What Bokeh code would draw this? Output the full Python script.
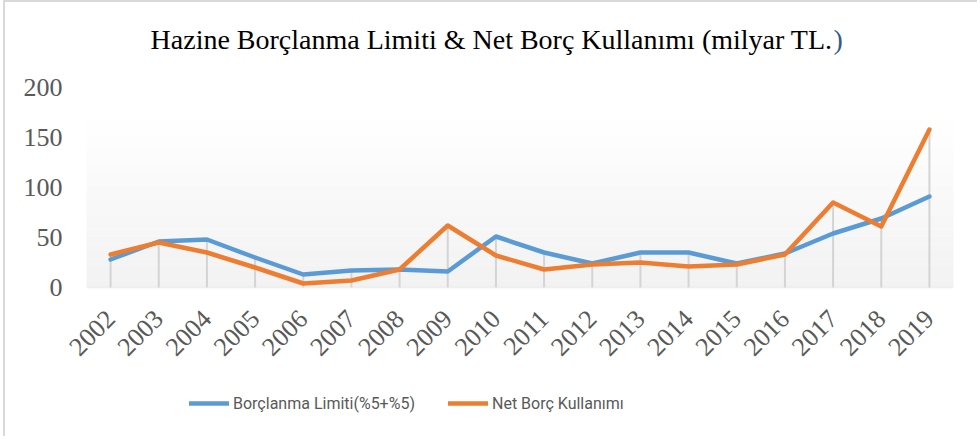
import math
from bokeh.plotting import figure
from bokeh.models import (FactorRange, Range1d, FixedTicker, Legend,
                          LegendItem, BoxAnnotation, Label)
from bokeh.embed import file_html
from bokeh.resources import INLINE

# ---- data ----
years = [str(y) for y in range(2002, 2020)]
borclanma_limiti = [28, 46, 48, 30, 13, 17, 18, 16, 51, 35, 24, 35, 35, 24, 34, 54, 69, 91]
net_borc = [33, 45, 35, 20, 4, 7, 18, 62, 32, 18, 23, 25, 21, 23, 33, 85, 61, 158]
y_ticks = [0, 50, 100, 150, 200]
title_main = "Hazine Borçlanma Limiti & Net Borç Kullanımı (milyar TL."
title_close = ")"
legend_labels = ["Borçlanma Limiti(%5+%5)", "Net Borç Kullanımı"]

BLUE = "#5B9BD5"
ORANGE = "#ED7D31"
GRAY_TXT = "#595959"

# figure placed at page (5, 2) thanks to margin + 2px border
W, H = 974, 436
FIG_X, FIG_Y = 5, 2
FRAME_TOP, FRAME_BOTTOM = FIG_Y, FIG_Y + H                 # frame covers full height
Y200, ZERO_Y = 87, 287                                     # page pixels of 200 and 0
PLOT_LEFT, PLOT_RIGHT = 86, 953                            # category band area
FRAME_LEFT, FRAME_RIGHT = 64, 975                          # widened frame (room for labels)
cat_w = (PLOT_RIGHT - PLOT_LEFT) / len(years)
pad_side = (PLOT_LEFT - FRAME_LEFT) / cat_w

px_per_unit = (ZERO_Y - Y200) / 200.0
y_start = -(FRAME_BOTTOM - ZERO_Y) / px_per_unit
y_end = 200 + (Y200 - FRAME_TOP) / px_per_unit

p = figure(width=W, height=H,
           x_range=FactorRange(*years, range_padding=pad_side, range_padding_units="absolute"),
           y_range=Range1d(y_start, y_end),
           output_backend="svg", toolbar_location=None,
           min_border_left=FRAME_LEFT - FIG_X, min_border_right=W + FIG_X - FRAME_RIGHT,
           min_border_top=0, min_border_bottom=0)
p.outline_line_color = None
p.background_fill_color = "white"
p.border_fill_color = "white"
p.grid.grid_line_color = None

# gradient background (white at top -> light gray at bottom), over the category band area
n = 24
top_val = 175.0
for i in range(n):
    frac = i / (n - 1)
    c = int(round(0xF2 + (0xFF - 0xF2) * frac))
    col = "#%02x%02x%02x" % (c, c, c)
    p.add_layout(BoxAnnotation(left=0, right=len(years),
                               bottom=top_val * i / n, top=top_val * (i + 1) / n,
                               fill_color=col, fill_alpha=1.0, line_color=None, level="underlay"))

# drop lines
drop_top = [max(a, b) for a, b in zip(borclanma_limiti, net_borc)]
p.segment(x0=years, y0=[0] * len(years), x1=years, y1=drop_top,
          line_color="#d4d4d4", line_width=2)

r1 = p.line(years, borclanma_limiti, line_color=BLUE, line_width=4.5,
            line_cap="round", line_join="round")
r2 = p.line(years, net_borc, line_color=ORANGE, line_width=4.5,
            line_cap="round", line_join="round")

# axes
p.yaxis.ticker = FixedTicker(ticks=y_ticks)
p.yaxis.axis_line_color = None
p.yaxis.major_tick_line_color = None
p.yaxis.minor_tick_line_color = None
p.yaxis.major_label_text_font = "Liberation Serif"
p.yaxis.major_label_text_font_size = "26px"
p.yaxis.major_label_text_color = GRAY_TXT
p.yaxis.major_label_standoff = -4

p.xaxis.fixed_location = 0
p.xaxis.axis_line_color = None
p.xaxis.major_tick_line_color = None
p.xaxis.minor_tick_line_color = None
p.xaxis.major_label_text_font = "Liberation Serif"
p.xaxis.major_label_text_font_size = "26px"
p.xaxis.major_label_text_color = GRAY_TXT
p.xaxis.major_label_orientation = math.pi / 4
p.xaxis.major_label_standoff = 21

# baseline of the plot area
p.add_layout(BoxAnnotation(left=0, right=len(years), bottom=0, top=0,
                           line_color="#d9d9d9", line_width=2, fill_alpha=0))

# title (two labels so the closing parenthesis can be blue, as in the original)
TITLE_SPLIT_X = 832          # page x where "TL." ends
TITLE_BASELINE = 39          # page y of title baseline (as positioned by Bokeh)
tx = TITLE_SPLIT_X - FRAME_LEFT
ty = FRAME_BOTTOM - TITLE_BASELINE
p.add_layout(Label(x=tx, y=ty, x_units="screen", y_units="screen", text=title_main,
                   text_font="Liberation Serif", text_font_size="28px", text_color="black",
                   text_align="right", text_baseline="alphabetic"))
p.add_layout(Label(x=tx + 1, y=ty, x_units="screen", y_units="screen", text=title_close,
                   text_font="Liberation Serif", text_font_size="28px", text_color="#2E5C8A",
                   text_align="left", text_baseline="alphabetic"))

# legend (inside the extended frame, below the axis)
legend = Legend(items=[LegendItem(label=legend_labels[0], renderers=[r1]),
                       LegendItem(label=legend_labels[1], renderers=[r2])],
                orientation="horizontal", location=(189 - FRAME_LEFT, 25),
                label_text_font="Roboto", label_text_font_size="16px",
                label_text_color=GRAY_TXT, glyph_width=40, label_standoff=4,
                spacing=33, padding=0, margin=0, border_line_color=None,
                background_fill_alpha=0)
p.add_layout(legend, "center")

p.styles = {"margin-left": "3px", "border-left": "2px solid #d9d9d9",
            "border-top": "2px solid #d9d9d9"}

open("out.html", "w").write(file_html(p, INLINE))
